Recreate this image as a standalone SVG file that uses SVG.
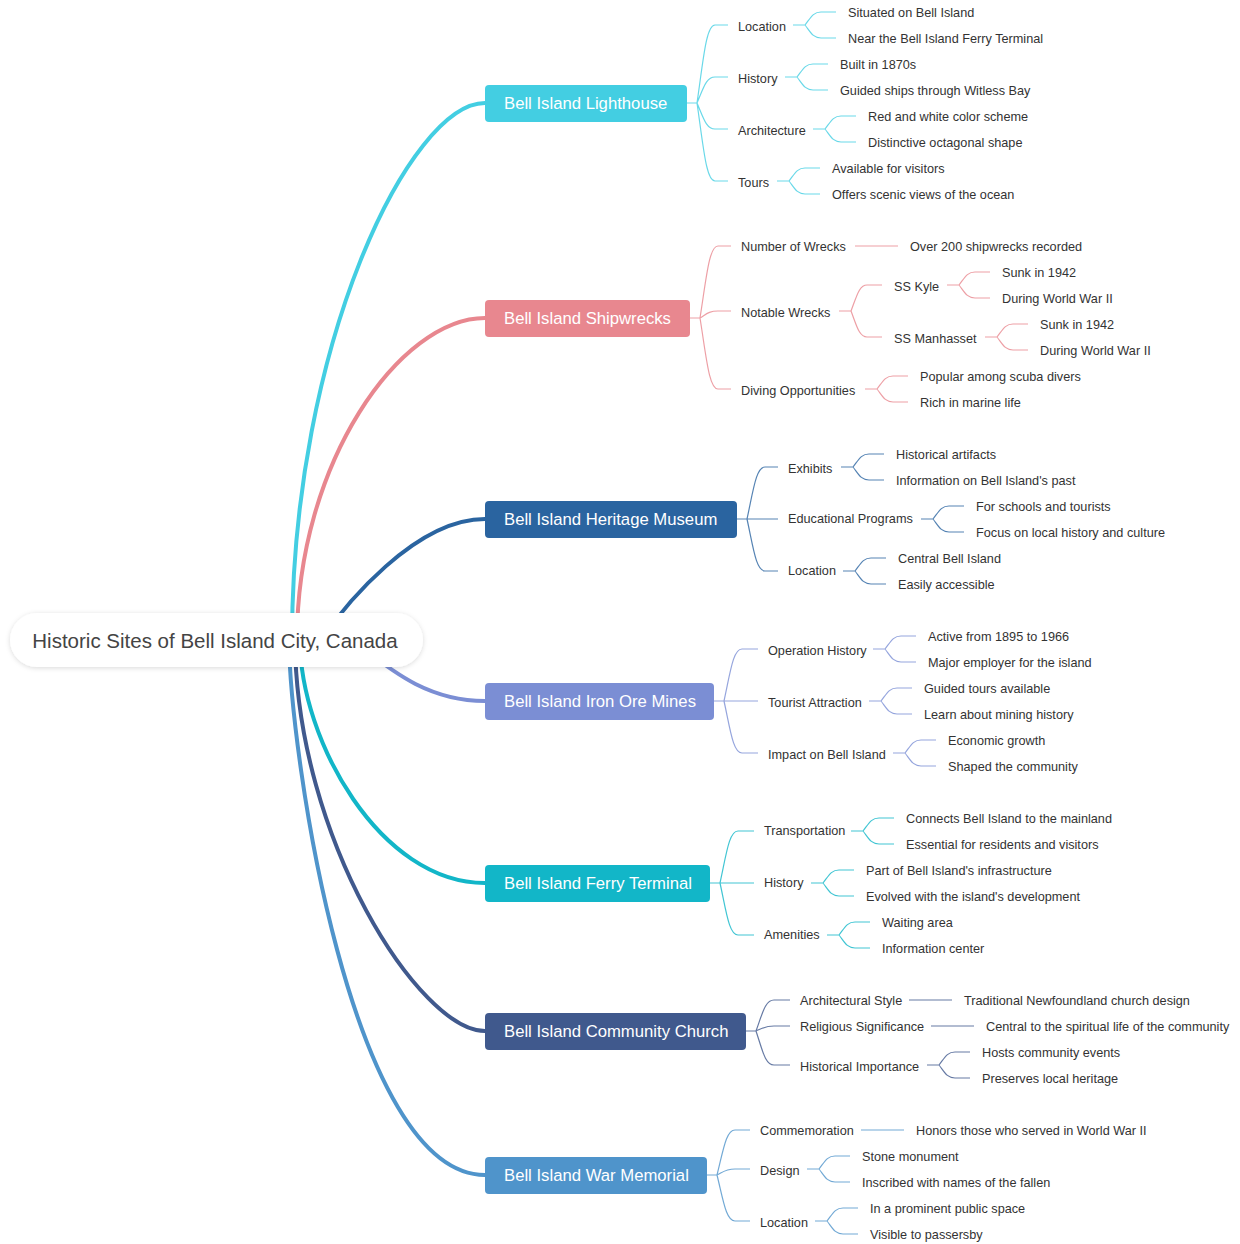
<svg xmlns="http://www.w3.org/2000/svg" width="1240" height="1244" viewBox="0 0 1240 1244">
<defs>
<filter id="sh" x="-10%" y="-40%" width="120%" height="180%">
<feDropShadow dx="0" dy="1" stdDeviation="2.5" flood-color="#000" flood-opacity="0.15"/>
</filter>
<style>
text{font-family:"Liberation Sans",Arial,Helvetica,sans-serif;dominant-baseline:central}
.root{font-size:20.5px;fill:#444;text-anchor:middle}
.main{font-size:16.7px;fill:#fff}
.t{font-size:12.7px;fill:#333;transform:translate(0px,1px)}
.big{fill:none;stroke-width:4;stroke-linecap:round}
.sm{fill:none;stroke-width:1.2;stroke-opacity:.8}
.c1{stroke:#43CEE2}.c2{stroke:#E8878F}.c3{stroke:#2A64A0}.c4{stroke:#7B8ED4}.c5{stroke:#12B6C8}.c6{stroke:#40598D}.c7{stroke:#4F94CB}
</style>
</defs>
<rect width="1240" height="1244" fill="#fff"/>
<g id="connectors">
<path class="big c1" d="M292,640 C292,345 410,103 485,103"/>
<path class="big c2" d="M297,640 C297,463 400,318 485,318"/>
<path class="big c3" d="M321,640 C345,605 415,519 485,519"/>
<path class="big c4" d="M352,640 C380,660 420,701 485,701"/>
<path class="big c5" d="M300,640 C300,740 380,883 485,883"/>
<path class="big c6" d="M295,640 C296,839 420,1031 485,1031"/>
<path class="big c7" d="M289,640 C290,753 351,1175 485,1175"/>

<path class="sm c1" d="M687,103 H697 c6.3,-42.9 9,-78 18,-78 h13 M697,103 c6.3,-14.3 9,-26 18,-26 h13 M697,103 c6.3,14.3 9,26 18,26 h13 M697,103 c6.3,42.9 9,78 18,78 h13"/>
<path class="sm c1" d="M793,25 h12 c5.6,-7.15 8,-13 16,-13 h15 M805,25 c5.6,7.15 8,13 16,13 h15"/>
<path class="sm c1" d="M785,77 h12 c5.6,-7.15 8,-13 16,-13 h15 M797,77 c5.6,7.15 8,13 16,13 h15"/>
<path class="sm c1" d="M813,129 h12 c5.6,-7.15 8,-13 16,-13 h15 M825,129 c5.6,7.15 8,13 16,13 h15"/>
<path class="sm c1" d="M777,181 h12 c5.6,-7.15 8,-13 16,-13 h15 M789,181 c5.6,7.15 8,13 16,13 h15"/>

<path class="sm c2" d="M690,318 H700 c6.3,-39.6 9,-72 18,-72 h13 M700,318 c6.3,-3.85 9,-7 18,-7 h13 M700,318 c6.3,39.05 9,71 18,71 h13"/>
<path class="sm c2" d="M855,246 H898"/>
<path class="sm c2" d="M839,311 h12 c5.6,-14.3 8,-26 16,-26 h15 M851,311 c5.6,14.3 8,26 16,26 h15"/>
<path class="sm c2" d="M947,285 h12 c5.6,-7.15 8,-13 16,-13 h15 M959,285 c5.6,7.15 8,13 16,13 h15"/>
<path class="sm c2" d="M985,337 h12 c5.6,-7.15 8,-13 16,-13 h15 M997,337 c5.6,7.15 8,13 16,13 h15"/>
<path class="sm c2" d="M865,389 h12 c5.6,-7.15 8,-13 16,-13 h15 M877,389 c5.6,7.15 8,13 16,13 h15"/>

<path class="sm c3" d="M737,519 H747 c6.3,-28.6 9,-52 18,-52 h13 M747,519 h31 M747,519 c6.3,28.6 9,52 18,52 h13"/>
<path class="sm c3" d="M841,467 h12 c5.6,-7.15 8,-13 16,-13 h15 M853,467 c5.6,7.15 8,13 16,13 h15"/>
<path class="sm c3" d="M921,519 h12 c5.6,-7.15 8,-13 16,-13 h15 M933,519 c5.6,7.15 8,13 16,13 h15"/>
<path class="sm c3" d="M843,571 h12 c5.6,-7.15 8,-13 16,-13 h15 M855,571 c5.6,7.15 8,13 16,13 h15"/>

<path class="sm c4" d="M714,701 H724 c6.3,-28.6 9,-52 18,-52 h16 M724,701 h34 M724,701 c6.3,28.6 9,52 18,52 h16"/>
<path class="sm c4" d="M873,649 h12 c5.6,-7.15 8,-13 16,-13 h15 M885,649 c5.6,7.15 8,13 16,13 h15"/>
<path class="sm c4" d="M869,701 h12 c5.6,-7.15 8,-13 16,-13 h15 M881,701 c5.6,7.15 8,13 16,13 h15"/>
<path class="sm c4" d="M893,753 h12 c5.6,-7.15 8,-13 16,-13 h15 M905,753 c5.6,7.15 8,13 16,13 h15"/>

<path class="sm c5" d="M710,883 H720 c6.3,-28.6 9,-52 18,-52 h16 M720,883 h34 M720,883 c6.3,28.6 9,52 18,52 h16"/>
<path class="sm c5" d="M851,831 h12 c5.6,-7.15 8,-13 16,-13 h15 M863,831 c5.6,7.15 8,13 16,13 h15"/>
<path class="sm c5" d="M811,883 h12 c5.6,-7.15 8,-13 16,-13 h15 M823,883 c5.6,7.15 8,13 16,13 h15"/>
<path class="sm c5" d="M827,935 h12 c5.6,-7.15 8,-13 16,-13 h15 M839,935 c5.6,7.15 8,13 16,13 h15"/>

<path class="sm c6" d="M746,1031 H756 c6.3,-17.05 9,-31 18,-31 h16 M756,1031 c6.3,-2.75 9,-5 18,-5 h16 M756,1031 c6.3,18.7 9,34 18,34 h16"/>
<path class="sm c6" d="M909,1000 H952"/>
<path class="sm c6" d="M931,1026 H974"/>
<path class="sm c6" d="M927,1065 h12 c5.6,-7.15 8,-13 16,-13 h15 M939,1065 c5.6,7.15 8,13 16,13 h15"/>

<path class="sm c7" d="M707,1175 H717 c6.3,-24.75 9,-45 18,-45 h15 M717,1175 c6.3,-3.3 9,-6 18,-6 h15 M717,1175 c6.3,25.3 9,46 18,46 h15"/>
<path class="sm c7" d="M861,1130 H904"/>
<path class="sm c7" d="M807,1169 h12 c5.6,-7.15 8,-13 16,-13 h15 M819,1169 c5.6,7.15 8,13 16,13 h15"/>
<path class="sm c7" d="M815,1221 h12 c5.6,-7.15 8,-13 16,-13 h15 M827,1221 c5.6,7.15 8,13 16,13 h15"/>
</g>

<g id="root">
<rect x="10" y="613" width="413" height="54" rx="27" fill="#fff" filter="url(#sh)"/>
<text class="root" x="215" y="640">Historic Sites of Bell Island City, Canada</text>
</g>

<g id="lighthouse"><rect x="485" y="85" width="202" height="37" rx="4" fill="#43CEE2"/><text class="main" x="504" y="103.5">Bell Island Lighthouse</text></g>
<g id="shipwrecks"><rect x="485" y="300" width="205" height="37" rx="4" fill="#E8878F"/><text class="main" x="504" y="318.5">Bell Island Shipwrecks</text></g>
<g id="museum"><rect x="485" y="501" width="252" height="37" rx="4" fill="#2A64A0"/><text class="main" x="504" y="519.5">Bell Island Heritage Museum</text></g>
<g id="mines"><rect x="485" y="683" width="229" height="37" rx="4" fill="#7B8ED4"/><text class="main" x="504" y="701.5">Bell Island Iron Ore Mines</text></g>
<g id="ferry"><rect x="485" y="865" width="225" height="37" rx="4" fill="#12B6C8"/><text class="main" x="504" y="883.5">Bell Island Ferry Terminal</text></g>
<g id="church"><rect x="485" y="1013" width="261" height="37" rx="4" fill="#40598D"/><text class="main" x="504" y="1031.5">Bell Island Community Church</text></g>
<g id="memorial"><rect x="485" y="1157" width="222" height="37" rx="4" fill="#4F94CB"/><text class="main" x="504" y="1175.5">Bell Island War Memorial</text></g>

<g id="lh-location"><text class="t" x="738" y="26">Location</text></g>
<g id="lh-loc-1"><text class="t" x="848" y="12">Situated on Bell Island</text></g>
<g id="lh-loc-2"><text class="t" x="848" y="38">Near the Bell Island Ferry Terminal</text></g>
<g id="lh-history"><text class="t" x="738" y="78">History</text></g>
<g id="lh-his-1"><text class="t" x="840" y="64">Built in 1870s</text></g>
<g id="lh-his-2"><text class="t" x="840" y="90">Guided ships through Witless Bay</text></g>
<g id="lh-arch"><text class="t" x="738" y="130">Architecture</text></g>
<g id="lh-arch-1"><text class="t" x="868" y="116">Red and white color scheme</text></g>
<g id="lh-arch-2"><text class="t" x="868" y="142">Distinctive octagonal shape</text></g>
<g id="lh-tours"><text class="t" x="738" y="182">Tours</text></g>
<g id="lh-tours-1"><text class="t" x="832" y="168">Available for visitors</text></g>
<g id="lh-tours-2"><text class="t" x="832" y="194">Offers scenic views of the ocean</text></g>

<g id="sw-number"><text class="t" x="741" y="246">Number of Wrecks</text></g>
<g id="sw-number-1"><text class="t" x="910" y="246">Over 200 shipwrecks recorded</text></g>
<g id="sw-notable"><text class="t" x="741" y="312">Notable Wrecks</text></g>
<g id="sw-kyle"><text class="t" x="894" y="286">SS Kyle</text></g>
<g id="sw-kyle-1"><text class="t" x="1002" y="272">Sunk in 1942</text></g>
<g id="sw-kyle-2"><text class="t" x="1002" y="298">During World War II</text></g>
<g id="sw-manhasset"><text class="t" x="894" y="338">SS Manhasset</text></g>
<g id="sw-man-1"><text class="t" x="1040" y="324">Sunk in 1942</text></g>
<g id="sw-man-2"><text class="t" x="1040" y="350">During World War II</text></g>
<g id="sw-diving"><text class="t" x="741" y="390">Diving Opportunities</text></g>
<g id="sw-div-1"><text class="t" x="920" y="376">Popular among scuba divers</text></g>
<g id="sw-div-2"><text class="t" x="920" y="402">Rich in marine life</text></g>

<g id="mu-exhibits"><text class="t" x="788" y="468">Exhibits</text></g>
<g id="mu-ex-1"><text class="t" x="896" y="454">Historical artifacts</text></g>
<g id="mu-ex-2"><text class="t" x="896" y="480">Information on Bell Island's past</text></g>
<g id="mu-edu"><text class="t" x="788" y="518">Educational Programs</text></g>
<g id="mu-edu-1"><text class="t" x="976" y="506">For schools and tourists</text></g>
<g id="mu-edu-2"><text class="t" x="976" y="532">Focus on local history and culture</text></g>
<g id="mu-location"><text class="t" x="788" y="570">Location</text></g>
<g id="mu-loc-1"><text class="t" x="898" y="558">Central Bell Island</text></g>
<g id="mu-loc-2"><text class="t" x="898" y="584">Easily accessible</text></g>

<g id="mi-op"><text class="t" x="768" y="650">Operation History</text></g>
<g id="mi-op-1"><text class="t" x="928" y="636">Active from 1895 to 1966</text></g>
<g id="mi-op-2"><text class="t" x="928" y="662">Major employer for the island</text></g>
<g id="mi-tour"><text class="t" x="768" y="702">Tourist Attraction</text></g>
<g id="mi-tour-1"><text class="t" x="924" y="688">Guided tours available</text></g>
<g id="mi-tour-2"><text class="t" x="924" y="714">Learn about mining history</text></g>
<g id="mi-impact"><text class="t" x="768" y="754">Impact on Bell Island</text></g>
<g id="mi-imp-1"><text class="t" x="948" y="740">Economic growth</text></g>
<g id="mi-imp-2"><text class="t" x="948" y="766">Shaped the community</text></g>

<g id="fe-transport"><text class="t" x="764" y="830">Transportation</text></g>
<g id="fe-tr-1"><text class="t" x="906" y="818">Connects Bell Island to the mainland</text></g>
<g id="fe-tr-2"><text class="t" x="906" y="844">Essential for residents and visitors</text></g>
<g id="fe-history"><text class="t" x="764" y="882">History</text></g>
<g id="fe-his-1"><text class="t" x="866" y="870">Part of Bell Island's infrastructure</text></g>
<g id="fe-his-2"><text class="t" x="866" y="896">Evolved with the island's development</text></g>
<g id="fe-amen"><text class="t" x="764" y="934">Amenities</text></g>
<g id="fe-am-1"><text class="t" x="882" y="922">Waiting area</text></g>
<g id="fe-am-2"><text class="t" x="882" y="948">Information center</text></g>

<g id="ch-style"><text class="t" x="800" y="1000">Architectural Style</text></g>
<g id="ch-style-1"><text class="t" x="964" y="1000">Traditional Newfoundland church design</text></g>
<g id="ch-rel"><text class="t" x="800" y="1026">Religious Significance</text></g>
<g id="ch-rel-1"><text class="t" x="986" y="1026">Central to the spiritual life of the community</text></g>
<g id="ch-hist"><text class="t" x="800" y="1066">Historical Importance</text></g>
<g id="ch-hist-1"><text class="t" x="982" y="1052">Hosts community events</text></g>
<g id="ch-hist-2"><text class="t" x="982" y="1078">Preserves local heritage</text></g>

<g id="me-comm"><text class="t" x="760" y="1130">Commemoration</text></g>
<g id="me-comm-1"><text class="t" x="916" y="1130">Honors those who served in World War II</text></g>
<g id="me-design"><text class="t" x="760" y="1170">Design</text></g>
<g id="me-des-1"><text class="t" x="862" y="1156">Stone monument</text></g>
<g id="me-des-2"><text class="t" x="862" y="1182">Inscribed with names of the fallen</text></g>
<g id="me-location"><text class="t" x="760" y="1222">Location</text></g>
<g id="me-loc-1"><text class="t" x="870" y="1208">In a prominent public space</text></g>
<g id="me-loc-2"><text class="t" x="870" y="1234">Visible to passersby</text></g>
</svg>
